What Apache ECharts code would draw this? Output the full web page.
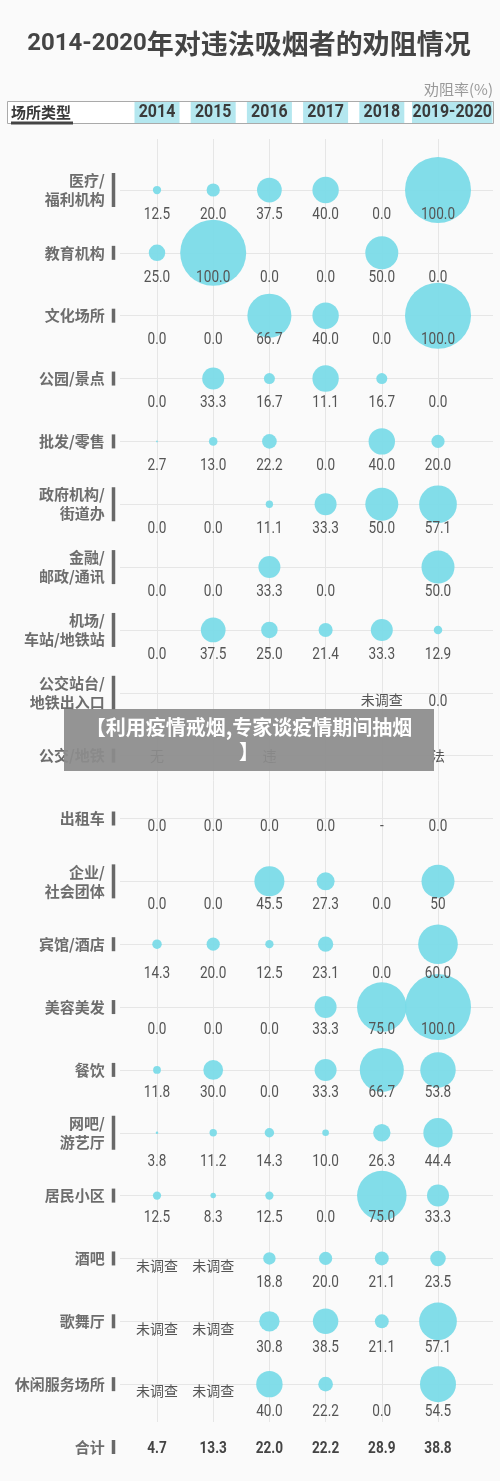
<!DOCTYPE html>
<html><head><meta charset="utf-8">
<script src="https://cdn.jsdelivr.net/npm/echarts@6/dist/echarts.min.js"></script>
<style>html,body{margin:0;padding:0;background:#fafafa}#c{width:500px;height:1481px}</style>
</head><body><div id="c"></div>
<script>
// ---------------- DATA ----------------
const years = ['2014', '2015', '2016', '2017', '2018', '2019-2020'];
const places = ['医疗/\n福利机构', '教育机构', '文化场所', '公园/景点', '批发/零售', '政府机构/\n街道办',
  '金融/\n邮政/通讯', '机场/\n车站/地铁站', '公交站台/\n地铁出入口', '公交/地铁', '出租车', '企业/\n社会团体',
  '宾馆/酒店', '美容美发', '餐饮', '网吧/\n游艺厅', '居民小区', '酒吧', '歌舞厅', '休闲服务场所', '合计'];
// 劝阻率(%) per year, in place order (text as printed)
const rate2014 = ['12.5','25.0','0.0','0.0','2.7','0.0','0.0','0.0','','无','0.0','0.0','14.3','0.0','11.8','3.8','12.5','未调查','未调查','未调查','4.7'];
const rate2015 = ['20.0','100.0','0.0','33.3','13.0','0.0','0.0','37.5','','','0.0','0.0','20.0','0.0','30.0','11.2','8.3','未调查','未调查','未调查','13.3'];
const rate2016 = ['37.5','0.0','66.7','16.7','22.2','11.1','33.3','25.0','','违','0.0','45.5','12.5','0.0','0.0','14.3','12.5','18.8','30.8','40.0','22.0'];
const rate2017 = ['40.0','0.0','40.0','11.1','0.0','33.3','0.0','21.4','','','0.0','27.3','23.1','33.3','33.3','10.0','0.0','20.0','38.5','22.2','22.2'];
const rate2018 = ['0.0','50.0','0.0','16.7','40.0','50.0','','33.3','未调查','','-','0.0','0.0','75.0','66.7','26.3','75.0','21.1','21.1','0.0','28.9'];
const rate2019 = ['100.0','0.0','100.0','0.0','20.0','57.1','50.0','12.9','0.0','法','0.0','50','60.0','100.0','53.8','44.4','33.3','23.5','57.1','54.5','38.8'];
const ratesByYear = [rate2014, rate2015, rate2016, rate2017, rate2018, rate2019];
// bubble drawn at a different size than its printed label in the original (公园/景点, 2017)
const drawnBubbleFixes = [{ place: 3, year: 3, value: 40 }];
const totalRow = 20;

// ---------------- LAYOUT ----------------
const W = 500, H = 1481;
const COL0 = 157, COLSTEP = 56.2, ROW0 = 190, ROWSTEP = 62.85;
const xv = px => (px - COL0) / COLSTEP;
const yv = py => (py - ROW0) / ROWSTEP;
const labelDy = [23,23,23,23,23,23,23,23,7,0,7,22,28,21,21,27,21,23,25,26,0];
const NUMF = "Roboto,'Noto Sans',sans-serif";
const CJK = "'Noto Sans CJK SC','Noto Sans',sans-serif";
const BUBBLE = '#79dae7';

const bubbleData = [], labelData = [];
ratesByYear.forEach((arr, yi) => {
  arr.forEach((txt, ri) => {
    if (txt === '') return;
    const num = parseFloat(txt);
    if (ri !== totalRow && !isNaN(num)) {
      const fix = drawnBubbleFixes.find(f => f.place === ri && f.year === yi);
      const sz = fix ? fix.value : num;
      if (sz > 0) bubbleData.push([yi, ri, sz]);
    }
    labelData.push([yi, ri, txt]);
  });
});

const rowLabelData = places.map((p, ri) => ({
  value: [xv(113.5), ri, p],
  symbolSize: [3.5, p.indexOf('\n') >= 0 ? 34 : 14]
}));

const gridLines = [];
years.forEach((y, i) => gridLines.push([{ coord: [i, yv(139)] }, { coord: [i, yv(1422)] }]));
places.forEach((p, ri) => { if (ri !== totalRow) gridLines.push([{ coord: [xv(120), ri] }, { coord: [xv(493), ri] }]); });

// header graphics
const headerEls = [];
headerEls.push({ type: 'rect', shape: { x: 7.5, y: 101.5, width: 486, height: 22 }, style: { fill: '#fff', stroke: '#aaa', lineWidth: 1 } });
years.forEach((y, i) => {
  const cx = COL0 + i * COLSTEP;
  let x0 = cx - 22.5, w = 45;
  if (i === years.length - 1) { x0 = cx - 26; w = 492.5 - x0; }
  headerEls.push({ type: 'rect', shape: { x: x0, y: 102, width: w, height: 21 }, style: { fill: '#b4e7ef' } });
  headerEls.push({ type: 'text', x: x0 + w / 2, y: 112.5, scaleX: 0.84,
    style: { text: y, fill: '#3a3a3a', font: "bold 19px " + NUMF, textAlign: 'center', textVerticalAlign: 'middle' } });
});
headerEls.push({ type: 'text', x: 11, y: 112, style: { text: '场所类型', fill: '#3a3a3a', font: "bold 15px " + CJK, textAlign: 'left', textVerticalAlign: 'middle' } });
headerEls.push({ type: 'rect', shape: { x: 11, y: 121.5, width: 62, height: 3 }, style: { fill: '#444' } });

function renderLabel(params, api) {
  const d = labelData[params.dataIndex];
  const txt = d[2], ri = d[1];
  const pt = api.coord([d[0], d[1]]);
  const isText = isNaN(parseFloat(txt));
  if (isText && txt !== '-') {
    const dy = txt === '未调查' ? 7 : 0;
    return { type: 'text', x: pt[0], y: pt[1] + dy,
      style: { text: txt, fill: '#555', font: "14px " + CJK, textAlign: 'center', textVerticalAlign: 'middle' } };
  }
  const bold = ri === totalRow;
  return { type: 'text', x: pt[0], y: pt[1] + labelDy[ri] + 1.5, scaleX: 0.8,
    style: { text: txt, fill: bold ? '#444' : '#555', font: (bold ? 'bold ' : '') + "17px " + NUMF,
      textAlign: 'center', textVerticalAlign: 'middle' } };
}

const chart = echarts.init(document.getElementById('c'), null, { renderer: 'canvas' });
chart.setOption({
  backgroundColor: '#fafafa',
  animation: false,
  grid: { left: 0, right: 0, top: 0, bottom: 0 },
  xAxis: { type: 'value', min: xv(0), max: xv(W), show: false },
  yAxis: { type: 'value', inverse: true, min: yv(0), max: yv(H), show: false },
  graphic: [
    { type: 'text', x: 249, y: 44, style: {
      text: '{a|2014-2020}{b|年对违法吸烟者的劝阻情况}', textAlign: 'center', textVerticalAlign: 'middle',
      rich: { a: { font: "bold 24px " + NUMF, fill: '#444' },
              b: { font: "bold 27px " + CJK, fill: '#444' } } } },
    { type: 'text', x: 493, y: 89, style: { text: '劝阻率(%)', fill: '#999', font: "15px " + CJK, textAlign: 'right', textVerticalAlign: 'middle' } },
    ...headerEls,
    { type: 'rect', z: 100, shape: { x: 64, y: 709, width: 370, height: 62 }, style: { fill: 'rgba(140,140,140,0.93)' } },
    { type: 'text', z: 101, x: 249, y: 727, style: { text: '【利用疫情戒烟,专家谈疫情期间抽烟', fill: '#fff', font: "bold 20px " + CJK, textAlign: 'center', textVerticalAlign: 'middle' } },
    { type: 'text', z: 101, x: 249, y: 751, style: { text: '】', fill: '#fff', font: "bold 20px " + CJK, textAlign: 'center', textVerticalAlign: 'middle' } }
  ],
  series: [
    { type: 'scatter', data: [], silent: true, z: 1,
      markLine: { silent: true, z: 0, symbol: 'none', label: { show: false },
        lineStyle: { color: '#e6e6e6', width: 1, type: 'solid' }, data: gridLines } },
    { type: 'scatter', data: bubbleData, z: 2, silent: true,
      symbolSize: d => d[2] * 0.66,
      itemStyle: { color: BUBBLE, opacity: 0.93 } },
    { type: 'custom', data: labelData.map(d => [d[0], d[1]]), z: 3, silent: true,
      renderItem: renderLabel },
    { type: 'scatter', data: rowLabelData, z: 3, silent: true, symbol: 'rect',
      itemStyle: { color: '#444' },
      label: { show: true, position: 'left', distance: 7, formatter: p => p.value[2],
        fontFamily: CJK, fontSize: 15, fontWeight: 'bold', color: '#4a4a4a', lineHeight: 19, align: 'right' } }
  ]
});
</script></body></html>
